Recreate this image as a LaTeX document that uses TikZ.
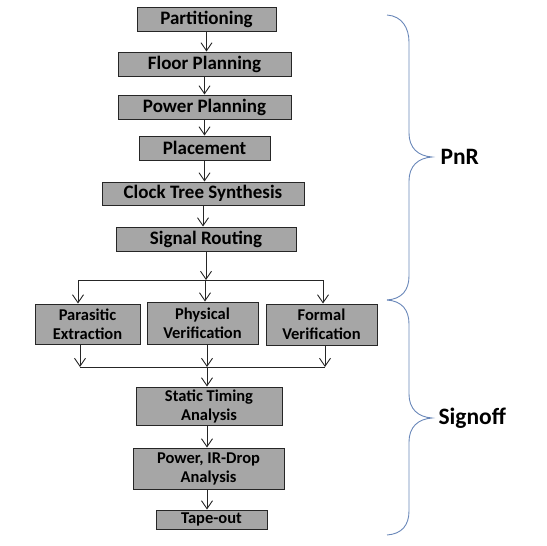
\documentclass[tikz,border=0pt]{standalone}
\usepackage{fontspec}
\setmainfont{Carlito}
\usetikzlibrary{arrows.meta}
\definecolor{boxgray}{RGB}{166,166,166}
\definecolor{bracecol}{RGB}{105,135,185}
\tikzset{
  stepbox/.style={draw=black!85, line width=1pt, fill=boxgray, inner sep=0pt, align=center,
    font=\bfseries\fontsize{19}{20}\selectfont},
  smallbox/.style={stepbox, font=\bfseries\fontsize{16.5}{19}\selectfont},
  arr/.style={draw=black!85, line width=0.9pt, -{Straight Barb[length=8pt,width=11pt,line width=0.9pt]}},
  ln/.style={draw=black!85, line width=0.9pt},
  brace/.style={draw=bracecol, line width=0.9pt},
  lab/.style={font=\bfseries\fontsize{23.5}{25}\selectfont, anchor=west}
}
\begin{document}
\begin{tikzpicture}[x=1pt,y=-1pt]
\useasboundingbox (0,0) rectangle (547,546);
\node[stepbox, minimum width=139pt, minimum height=24.5pt] (part) at (206.5,19.5) {Partitioning};
\node[stepbox, minimum width=173pt, minimum height=24pt] (floor) at (204.5,64) {Floor Planning};
\node[stepbox, minimum width=173pt, minimum height=24pt] (power) at (204.5,107) {Power Planning};
\node[stepbox, minimum width=131pt, minimum height=24pt] (place) at (204.5,148) {Placement};
\node[stepbox, minimum width=202pt, minimum height=23pt] (cts) at (203,193.5) {Clock Tree Synthesis};
\node[stepbox, minimum width=180pt, minimum height=24pt] (route) at (206,239) {Signal Routing};
\node[smallbox, minimum width=105pt, minimum height=40pt] (para) at (87.5,324) {Parasitic\\Extraction};
\node[smallbox, minimum width=111pt, minimum height=42pt] (phys) at (202.5,323) {Physical\\Verification};
\node[smallbox, minimum width=111pt, minimum height=41pt] (formal) at (321.5,324.5) {Formal\\Verification};
\node[smallbox, minimum width=146pt, minimum height=38pt] (sta) at (209,406) {Static Timing\\Analysis};
\node[smallbox, minimum width=151pt, minimum height=41pt] (pir) at (208.5,468.5) {Power, IR-Drop\\Analysis};
\node[smallbox, minimum width=111pt, minimum height=19pt] (tape) at (211.5,519.5) {Tape-out};

\coordinate (s) at (206,280);
\coordinate (sl) at (78,280);
\coordinate (sm) at (205,280);
\coordinate (sr) at (323,280);
\coordinate (ml) at (80,367);
\coordinate (mm) at (207,367);
\coordinate (mr) at (325,367);

\draw[arr] (part.south) -- (part.south |- floor.north);
\draw[arr] (floor.south) -- (power.north);
\draw[arr] (power.south) -- (place.north);
\draw[arr] (place.south) -- (place.south |- cts.north);
\draw[arr] (cts.south) -- (cts.south |- route.north);
\draw[arr] (route.south) -- (s);
\draw[ln] (sl) -- (sr);
\draw[arr] (sl) -- (sl |- para.north);
\draw[arr] (sm) -- (sm |- phys.north);
\draw[arr] (sr) -- (sr |- formal.north);
\draw[arr] (para.south -| ml) -- (ml);
\draw[arr] (phys.south -| mm) -- (mm);
\draw[arr] (formal.south -| mr) -- (mr);
\draw[ln] (ml) -- (mr);
\draw[arr] (mm) -- (mm |- sta.north);
\draw[arr] (sta.south -| mm) -- (mm |- pir.north);
\draw[arr] (pir.south -| mm) -- (mm |- tape.north);

% braces
\coordinate (b1) at (387,15);
\coordinate (t1) at (432,157);
\coordinate (b2) at (387,300);
\coordinate (t2) at (432,418);
\coordinate (b3) at (387,535);
\draw[brace] (b1) .. controls (402,16) and (409,28) .. (409,42)
  -- (409,133) .. controls (409,148) and (418,156) .. (t1)
  .. controls (418,158) and (409,166) .. (409,181)
  -- (409,276) .. controls (409,290) and (402,299) .. (b2);
\draw[brace] (b2) .. controls (402,301) and (409,310) .. (409,324)
  -- (409,394) .. controls (409,409) and (418,417) .. (t2)
  .. controls (418,419) and (409,427) .. (409,442)
  -- (409,511) .. controls (409,525) and (402,534) .. (b3);
\node[lab] (pnr) at (437,157) {PnR};
\node[lab] (sign) at (435,418) {Signoff};
\end{tikzpicture}
\end{document}
